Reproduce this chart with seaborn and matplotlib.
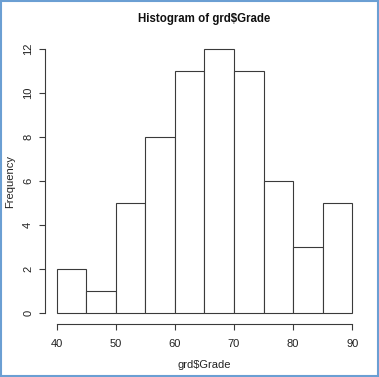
import numpy as np
import pandas as pd
import seaborn as sns
import matplotlib.pyplot as plt
from matplotlib.patches import Rectangle

# histogram of grades, bins of width 5
bin_edges = [40, 45, 50, 55, 60, 65, 70, 75, 80, 85, 90]
bin_counts = [2, 1, 5, 8, 11, 12, 11, 6, 3, 5]
x_ticks = [40, 50, 60, 70, 80, 90]
y_ticks = [0, 2, 4, 6, 8, 10, 12]

mids = [(a + b) / 2 for a, b in zip(bin_edges[:-1], bin_edges[1:])]
df = pd.DataFrame({"Grade": mids, "Count": bin_counts})

sns.set_style("white")
plt.rcParams["font.family"] = ["Liberation Sans", "DejaVu Sans"]

fig = plt.figure(figsize=(3.79, 3.77), dpi=100)
ax = fig.add_axes([0.1187, 0.1406, 0.8417, 0.7576])

sns.histplot(data=df, x="Grade", weights="Count", bins=bin_edges,
             color="white", edgecolor="#3a3a3a", linewidth=0.8, alpha=1,
             ax=ax)

ax.set_xlim(38, 92)
ax.set_ylim(-0.48, 12.48)
ax.set_xticks(x_ticks)
ax.set_yticks(y_ticks)
ax.set_yticklabels([str(v) for v in y_ticks], rotation=90, va="center")

for s in ["top", "right"]:
    ax.spines[s].set_visible(False)
ax.spines["bottom"].set_bounds(40, 90)
ax.spines["left"].set_bounds(0, 12)
for s in ["bottom", "left"]:
    ax.spines[s].set_color("#3a3a3a")
    ax.spines[s].set_linewidth(0.8)

ax.tick_params(axis="both", direction="out", length=4.5, width=0.8,
               color="#3a3a3a", labelsize=8, labelcolor="#222222",
               bottom=True, left=True)
ax.tick_params(axis="x", pad=6)
ax.tick_params(axis="y", pad=4)

ax.set_xlabel("grd$Grade", fontsize=8, color="#222222", labelpad=8)
ax.set_ylabel("Frequency", fontsize=8, color="#222222", labelpad=5.5)
ax.set_title("Histogram of grd$Grade", fontsize=8.3, fontweight="bold",
             color="#111111", pad=12)

# thin blue frame around the picture
fig.patches.append(Rectangle((0.002, 0.002), 0.996, 0.996, transform=fig.transFigure,
                             fill=False, edgecolor="#6b9fd3", linewidth=1.5))

fig.savefig("out.png", dpi=100)
